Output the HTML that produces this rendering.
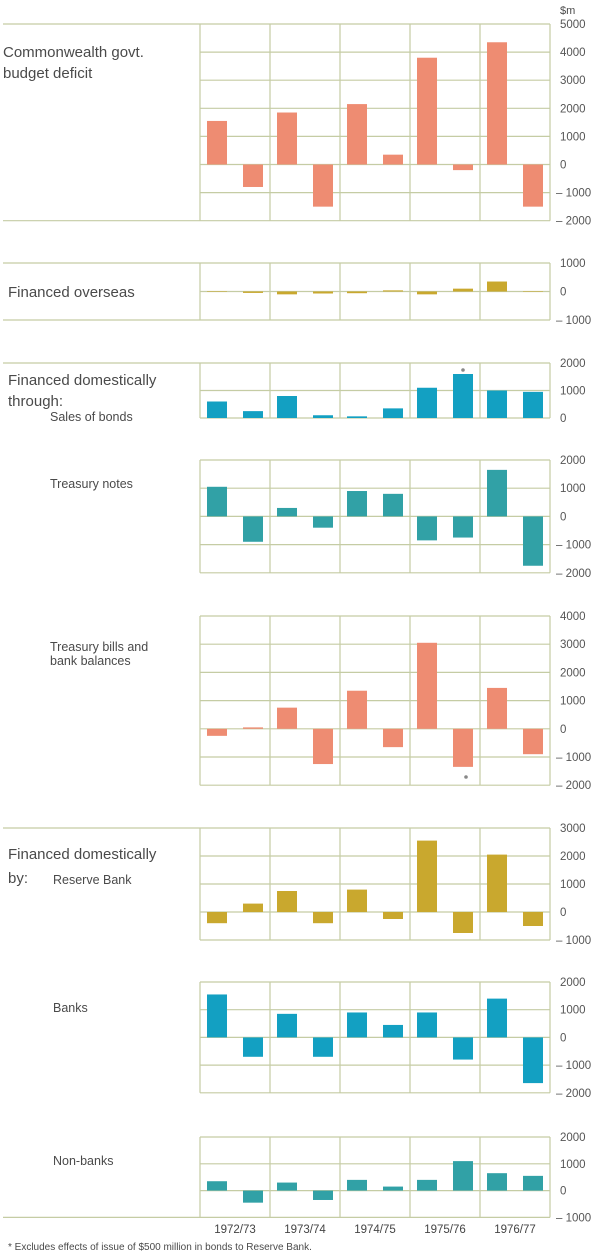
<!DOCTYPE html>
<html><head><meta charset="utf-8">
<style>
body{margin:0;background:#fff;width:600px;height:1255px;overflow:hidden;font-family:"Liberation Sans",sans-serif;color:#444;}
svg{position:absolute;left:0;top:0}
text{font-family:"Liberation Sans",sans-serif;}
</style></head>
<body>
<svg id="chart" width="600" height="1255"></svg>
<script>
const years = ["1972/73","1973/74","1974/75","1975/76","1976/77"];
const budgetDeficit = [1550,-800,1850,-1500,2150,350,3800,-200,4350,-1500];
const financedOverseas = [0,-50,-100,-70,-60,40,-100,100,350,0];
const salesOfBonds = [600,250,800,100,60,350,1100,1600,1000,950];
const treasuryNotes = [1050,-900,300,-400,900,800,-850,-750,1650,-1750];
const treasuryBills = [-250,50,750,-1250,1350,-650,3050,-1350,1450,-900];
const reserveBank = [-400,300,750,-400,800,-250,2550,-750,2050,-500];
const banks = [1550,-700,850,-700,900,450,900,-800,1400,-1650];
const nonBanks = [350,-450,300,-350,400,150,400,1100,650,550];
const ticksP1 = [5000,4000,3000,2000,1000,0,-1000,-2000];
const ticksP2 = [1000,0,-1000];
const ticksP3 = [2000,1000,0];
const ticksP4 = [2000,1000,0,-1000,-2000];
const ticksP5 = [4000,3000,2000,1000,0,-1000,-2000];
const ticksP6 = [3000,2000,1000,0,-1000];
const ticksP8 = [2000,1000,0,-1000];

const NS="http://www.w3.org/2000/svg";
const svg=document.getElementById('chart');
const X0=200, GW=70, GRID="#c5cca4";
function el(tag,attrs,parent){const e=document.createElementNS(NS,tag);for(const k in attrs)e.setAttribute(k,attrs[k]);(parent||svg).appendChild(e);return e;}
function line(x1,y1,x2,y2,g){return el('line',{x1,y1,x2,y2,stroke:GRID,'stroke-width':1.2},g);}

function panel(name,values,ticks,yTop,pxPer1000,color,longTop,longBottom){
  const g=el('g',{});
  
  
  const maxT=ticks[0], minT=ticks[ticks.length-1];
  const y=v=>yTop+(maxT-v)*pxPer1000/1000;
  const yBot=y(minT);
  ticks.forEach(t=>{
    const L=(t===maxT&&longTop)||(t===minT&&longBottom)?3:X0;
    line(L,y(t),550,y(t),g);
    const tx=el('text',{x:t<0?556:560,y:y(t)+4,'font-size':11.5,fill:'#555'},g);
    tx.textContent=(t<0?'– ':'')+Math.abs(t);
    
    
  });
  for(let i=0;i<=5;i++) line(X0+i*GW,yTop,X0+i*GW,yBot,g);
  values.forEach((v,i)=>{
    const grp=Math.floor(i/2), k=i%2;
    const bx=X0+grp*GW+(k?43:7);
    const y0=y(0), y1=y(v);
    const r=el('rect',{x:bx,y:Math.min(y0,y1),width:20,height:Math.max(Math.abs(y1-y0),0.5),fill:color},g);
    
    
  });
  return y;
}
panel('budget-deficit',budgetDeficit,ticksP1,24,28.1,'#ee8c72',true,true);
panel('financed-overseas',financedOverseas,ticksP2,263,28.5,'#c9a82e',true,true);
panel('sales-of-bonds',salesOfBonds,ticksP3,363,27.5,'#13a0c2',true,false);
panel('treasury-notes',treasuryNotes,ticksP4,460,28.2,'#31a1a6',false,false);
panel('treasury-bills',treasuryBills,ticksP5,616,28.2,'#ee8c72',false,false);
panel('reserve-bank',reserveBank,ticksP6,828,28,'#c9a82e',true,false);
panel('banks',banks,ticksP4,982,27.7,'#13a0c2',false,false);
panel('non-banks',nonBanks,ticksP8,1137,26.8,'#31a1a6',false,true);

function txt(s,x,yy,size,name){const t=el('text',{x,y:yy,'font-size':size,fill:'#4a4a4a'});t.textContent=s;return t;}
txt('$m',560,14,11,'unit-label');
const a1=el('circle',{cx:463,cy:370,r:1.8,fill:'#888'});


const a2=el('circle',{cx:466,cy:777,r:1.8,fill:'#888'});


txt('Commonwealth govt.',3,57,15,'label-budget-deficit');
txt('budget deficit',3,78,15,'label-budget-deficit-2');
txt('Financed overseas',8,297,15,'label-financed-overseas');
txt('Financed domestically',8,385,15,'label-financed-domestically');
txt('through:',8,406,15,'label-through');
txt('Sales of bonds',50,421,12.5,'label-sales-of-bonds');
txt('Treasury notes',50,488,12.5,'label-treasury-notes');
txt('Treasury bills and',50,651,12.5,'label-treasury-bills');
txt('bank balances',50,665,12.5,'label-bank-balances');
txt('Financed domestically',8,859,15,'label-financed-domestically-by');
txt('by:',8,883,15,'label-by');
txt('Reserve Bank',53,884,12.5,'label-reserve-bank');
txt('Banks',53,1012,12.5,'label-banks');
txt('Non-banks',53,1165,12.5,'label-non-banks');
years.forEach((yr,i)=>{const t=el('text',{x:X0+i*GW+35,y:1233,'font-size':11.5,'text-anchor':'middle',fill:'#444'});t.textContent=yr;

});
txt('* Excludes effects of issue of $500 million in bonds to Reserve Bank.',8,1250,10,'footnote');
</script>
</body></html>
